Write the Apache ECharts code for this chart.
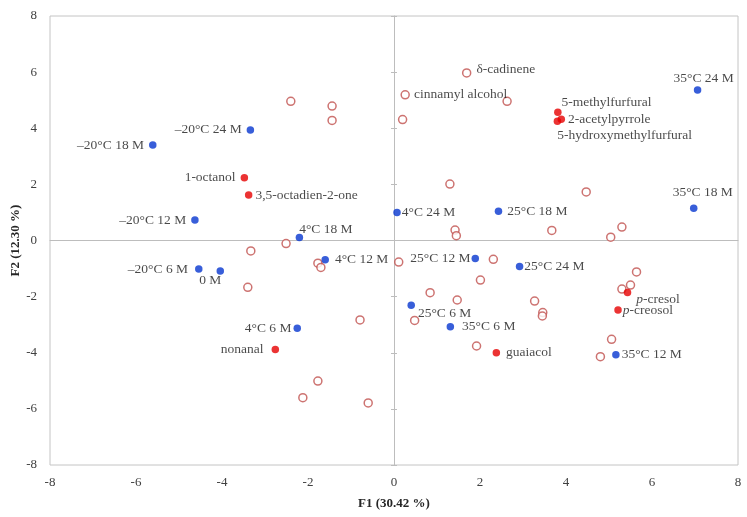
<!DOCTYPE html>
<html>
<head>
<meta charset="utf-8">
<script src="https://cdn.jsdelivr.net/npm/echarts@6/dist/echarts.min.js"></script>
<style>html,body{margin:0;padding:0;background:#fff}#c{width:747px;height:517px}</style>
</head>
<body>
<div id="c"></div>
<script>
// ---- data ----
const sampleNames = ['–20°C 24 M','–20°C 18 M','–20°C 12 M','–20°C 6 M','0 M','4°C 18 M','4°C 12 M','4°C 6 M','4°C 24 M','25°C 18 M','25°C 12 M','25°C 24 M','25°C 6 M','35°C 6 M','35°C 12 M','35°C 24 M','35°C 18 M'];
const sampleF1 = [-3.34,-5.61,-4.63,-4.54,-4.04,-2.20,-1.60,-2.25,0.07,2.43,1.89,2.92,0.40,1.31,5.16,7.06,6.97];
const sampleF2 = [3.94,3.40,0.73,-1.02,-1.09,0.11,-0.69,-3.13,1.00,1.04,-0.64,-0.93,-2.31,-3.07,-4.07,5.36,1.15];

const compoundNames = ['1-octanol','3,5-octadien-2-one','nonanal','5-methylfurfural','2-acetylpyrrole','5-hydroxymethylfurfural','guaiacol','p-cresol','p-creosol'];
const compoundF1 = [-3.48,-3.38,-2.76,3.81,3.89,3.80,2.38,5.43,5.21];
const compoundF2 = [2.24,1.62,-3.88,4.57,4.32,4.25,-4.00,-1.85,-2.48];

const otherNames = ['δ-cadinene','cinnamyl alcohol','','','','','','','','','','','','','','','','','','','','','','','','','','','','','','','','','','','',''];
const otherF1 = [1.69,0.26,-2.40,-1.44,-1.44,-2.51,-3.33,-1.77,-1.70,-3.40,0.11,-0.79,-1.77,-2.12,-0.60,2.63,0.20,1.30,4.47,1.42,1.45,3.67,5.30,5.04,2.31,2.01,5.64,5.50,5.30,0.84,1.47,3.27,3.46,3.45,0.48,1.92,5.06,4.80];
const otherF2 = [5.97,5.19,4.96,4.79,4.28,-0.11,-0.37,-0.81,-0.96,-1.67,-0.77,-2.83,-5.01,-5.60,-5.79,4.96,4.31,2.01,1.73,0.37,0.17,0.36,0.48,0.12,-0.67,-1.41,-1.12,-1.59,-1.73,-1.86,-2.12,-2.16,-2.57,-2.69,-2.85,-3.76,-3.52,-4.14];

const axisMin = -8, axisMax = 8, axisStep = 2;
const xTitle = 'F1 (30.42 %)', yTitle = 'F2 (12.30 %)';

// ---- label placement (style) ----
const place = {
  '–20°C 24 M':['left',5,[0,0]], '–20°C 18 M':['left',5,[0,0]], '–20°C 12 M':['left',5,[0,0]],
  '–20°C 6 M':['left',7,[0,0]], '0 M':['bottom',5,[-10,-6]], '4°C 18 M':['right',0,[-4,-8]],
  '4°C 12 M':['right',6,[0,0]], '4°C 6 M':['left',2,[0,0]], '4°C 24 M':['right',1,[0,0]],
  '25°C 18 M':['right',5,[0,0]], '25°C 12 M':['left',1,[0,0]], '25°C 24 M':['right',1,[0,0]],
  '25°C 6 M':['right',3,[0,8]], '35°C 6 M':['right',8,[0,0]], '35°C 12 M':['right',2,[0,0]],
  '35°C 24 M':['top',5,[6,4]], '35°C 18 M':['top',5,[9,0]],
  '1-octanol':['left',5,[0,0]], '3,5-octadien-2-one':['right',3,[0,0]], 'nonanal':['left',8,[0,0]],
  '5-methylfurfural':['right',0,[0,-10]], '2-acetylpyrrole':['right',3,[0,0]],
  '5-hydroxymethylfurfural':['right',0,[-4,14]], 'guaiacol':['right',6,[0,0]],
  'p-cresol':['right',5,[0,7]], 'p-creosol':['right',1,[0,0]],
  'δ-cadinene':['right',5,[0,-4]], 'cinnamyl alcohol':['right',4,[0,0]]
};
const FONT = '"Liberation Serif","Times New Roman",serif';

function fmtName(n){
  if (n === 'p-cresol') return '{i|p}-cresol';
  if (n === 'p-creosol') return '{i|p}-creosol';
  return n;
}
function build(names, xs, ys){
  return names.map((n,i)=>{
    const item = {name:n, value:[xs[i], ys[i]]};
    const p = place[n];
    if (n && p){
      item.label = {show:true, position:p[0], distance:p[1], offset:p[2], formatter:fmtName(n)};
    }
    return item;
  });
}
const baseLabel = {show:false, fontFamily:FONT, fontSize:13.5, color:'#1a1a1a',
  rich:{i:{fontStyle:'italic', fontFamily:FONT, fontSize:13.5, color:'#1a1a1a'}}};

const chart = echarts.init(document.getElementById('c'), null, {renderer:'canvas'});
chart.setOption({
  animation:false,
  backgroundColor:'#fff',
  grid:{left:50, right:9, top:16, bottom:52, show:true, borderColor:'#c4c4c4', borderWidth:1,
        containLabel:false, outerBoundsMode:'none'},
  xAxis:[
    {type:'value', min:axisMin, max:axisMax, interval:axisStep, position:'bottom',
     axisLine:{show:false, onZero:false}, axisTick:{show:false}, splitLine:{show:false},
     axisLabel:{fontFamily:FONT, fontSize:13, color:'#404040', margin:11},
     name:xTitle, nameLocation:'middle', nameGap:32,
     nameTextStyle:{fontFamily:FONT, fontSize:13, fontWeight:'bold', color:'#262626'}},
    {type:'value', min:axisMin, max:axisMax, interval:axisStep,
     axisLine:{show:true, onZero:true, onZeroAxisIndex:0, lineStyle:{color:'#bdbdbd', width:1}},
     axisTick:{show:false}, axisLabel:{show:false}, splitLine:{show:false}}
  ],
  yAxis:[
    {type:'value', min:axisMin, max:axisMax, interval:axisStep, position:'left',
     axisLine:{show:false, onZero:false}, axisTick:{show:false}, splitLine:{show:false},
     axisLabel:{fontFamily:FONT, fontSize:13, color:'#404040', margin:13},
     name:yTitle, nameLocation:'middle', nameGap:28, nameMoveOverlap:false,
     nameTextStyle:{fontFamily:FONT, fontSize:13, fontWeight:'bold', color:'#262626'}},
    {type:'value', min:axisMin, max:axisMax, interval:axisStep, position:'left',
     axisLine:{show:true, onZero:true, onZeroAxisIndex:0, lineStyle:{color:'#bdbdbd', width:1}},
     axisTick:{show:true, inside:false, length:3, lineStyle:{color:'#bdbdbd'}},
     axisLabel:{show:false}, splitLine:{show:false}},
    {type:'value', min:axisMin, max:axisMax, interval:axisStep, position:'left',
     axisLine:{show:false, onZero:true, onZeroAxisIndex:0},
     axisTick:{show:true, inside:true, length:3, lineStyle:{color:'#bdbdbd'}},
     axisLabel:{show:false}, splitLine:{show:false}}
  ],
  series:[
    {type:'scatter', name:'other', symbol:'circle', symbolSize:8,
     itemStyle:{color:'#ffffff', borderColor:'#c0504d', borderWidth:1.5},
     label:baseLabel, data:build(otherNames, otherF1, otherF2), z:3},
    {type:'scatter', name:'compounds', symbol:'circle', symbolSize:7.5,
     itemStyle:{color:'#e60000'}, label:baseLabel,
     data:build(compoundNames, compoundF1, compoundF2), z:4},
    {type:'scatter', name:'samples', symbol:'circle', symbolSize:7.5,
     itemStyle:{color:'#0636d0'}, label:baseLabel,
     data:build(sampleNames, sampleF1, sampleF2), z:5}
  ]
});
</script>
</body>
</html>
